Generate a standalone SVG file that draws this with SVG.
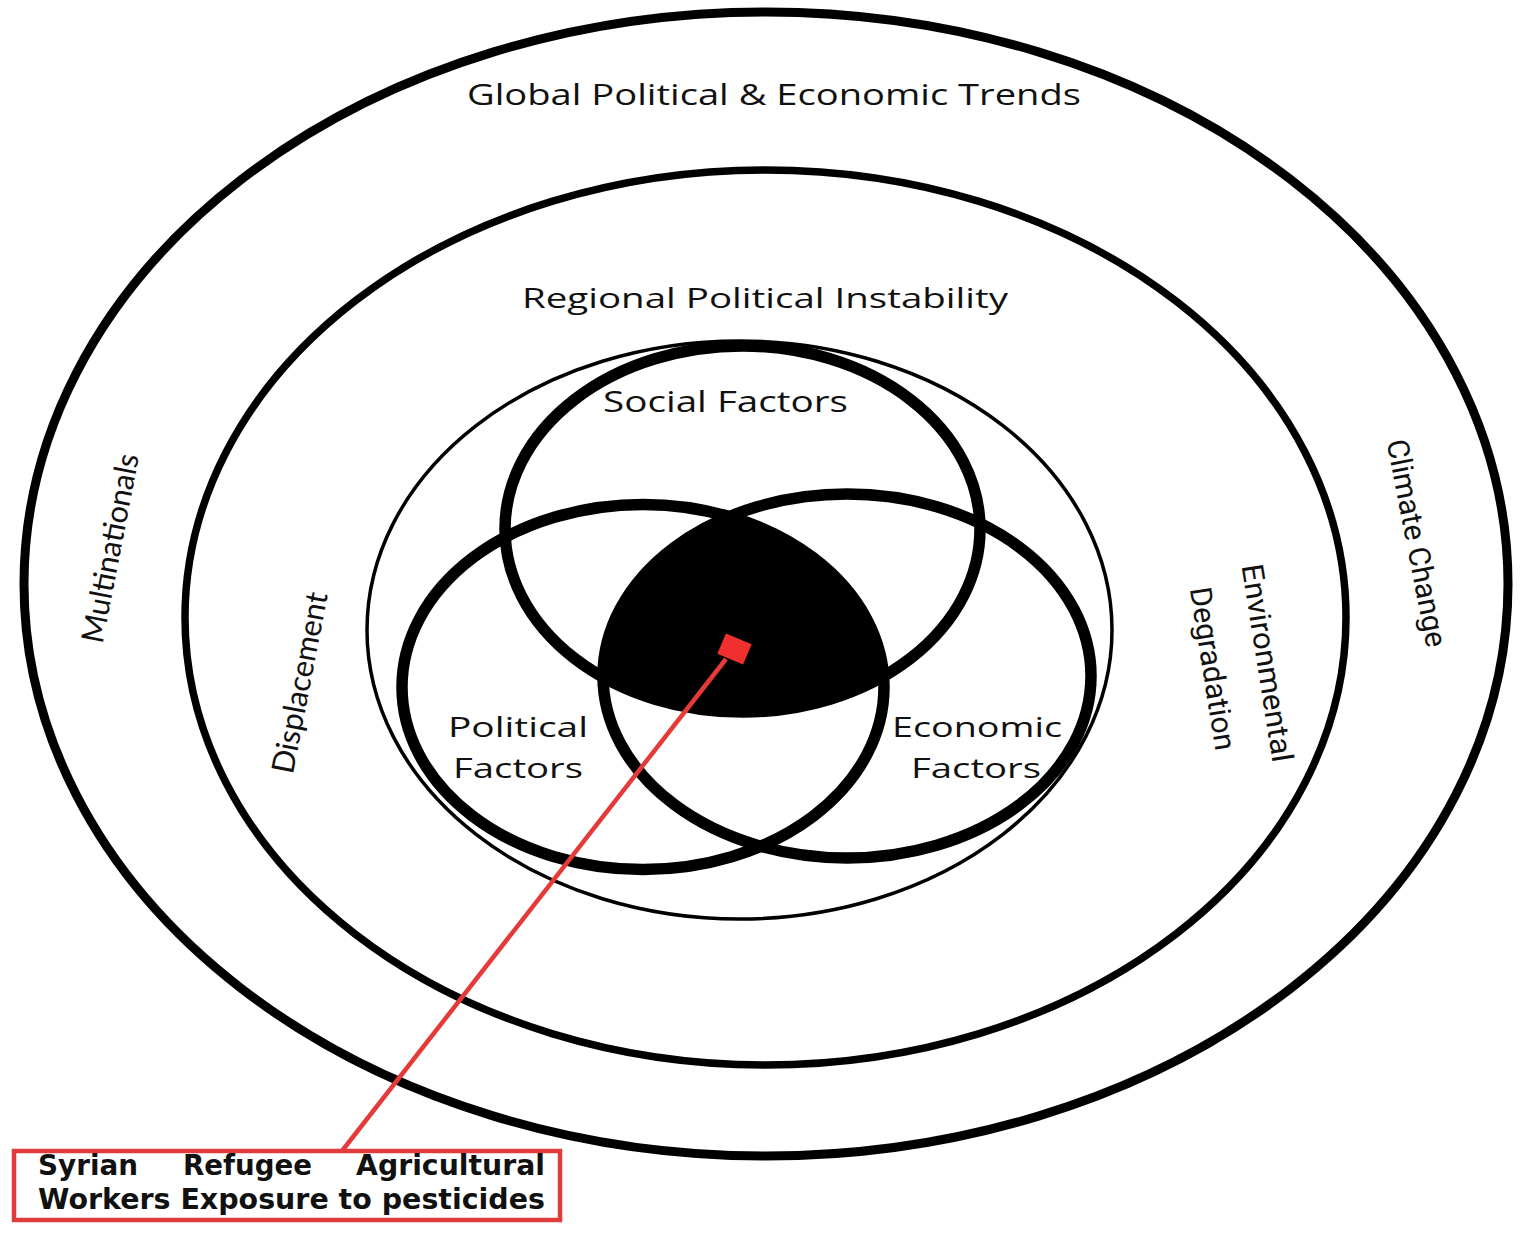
<svg xmlns="http://www.w3.org/2000/svg" width="1523" height="1242" viewBox="0 0 1523 1242">
<style>
.ring{fill:none;stroke:#000}
.lbl{font-family:"Open Sans","Liberation Sans",sans-serif;fill:#111;text-anchor:middle}
.rot{font-family:Roboto,"Liberation Sans",sans-serif;fill:#111;text-anchor:middle;dominant-baseline:central}
.hum{font-family:Lato,"Liberation Sans",sans-serif;font-style:normal;fill:#111;text-anchor:middle;dominant-baseline:central}
.box{font-family:"DejaVu Sans","Liberation Sans",sans-serif;font-weight:bold;fill:#111;font-size:28px}
</style>
<defs>
<clipPath id="clipPol"><ellipse cx="643" cy="687" rx="241" ry="182.5"/></clipPath>
<clipPath id="clipEco"><ellipse cx="847" cy="676" rx="244" ry="182"/></clipPath>
</defs>
<rect width="1523" height="1242" fill="#fff"/>

<g id="global-ring">
<ellipse class="ring" cx="766" cy="584" rx="742" ry="572" stroke-width="9"/>
<text class="lbl" x="774" y="105" font-size="30" textLength="614" lengthAdjust="spacingAndGlyphs">Global Political &amp; Economic Trends</text>
<text class="hum" font-size="31" textLength="192" lengthAdjust="spacingAndGlyphs" transform="translate(109 548) rotate(-79)">Multinationals</text>
<text class="rot" font-size="30" textLength="211" lengthAdjust="spacingAndGlyphs" transform="translate(1417 543) rotate(79)">Climate Change</text>
</g>

<g id="regional-ring">
<ellipse class="ring" cx="765.5" cy="617.5" rx="580.5" ry="447.5" stroke-width="7.5"/>
<text class="lbl" x="765" y="308" font-size="28" textLength="486" lengthAdjust="spacingAndGlyphs">Regional Political Instability</text>
<text class="hum" font-size="31" textLength="184" lengthAdjust="spacingAndGlyphs" transform="translate(298.5 682.5) rotate(-79)">Displacement</text>
<text class="rot" font-size="30" textLength="200" lengthAdjust="spacingAndGlyphs" transform="translate(1267.5 663) rotate(81)">Environmental</text>
<text class="rot" font-size="30" textLength="165" lengthAdjust="spacingAndGlyphs" transform="translate(1213 668.5) rotate(81)">Degradation</text>
</g>

<g id="local-ring">
<ellipse class="ring" cx="739.5" cy="630" rx="372.5" ry="289" stroke-width="3.5"/>
</g>

<g id="core-intersection">
<g clip-path="url(#clipPol)"><g clip-path="url(#clipEco)">
<ellipse cx="742.5" cy="529" rx="237.5" ry="183" fill="#000"/>
</g></g>
</g>

<g id="social-factors">
<ellipse class="ring" cx="742.5" cy="529" rx="237.5" ry="183" stroke-width="11.5"/>
<text class="lbl" x="725.5" y="412" font-size="29" textLength="245" lengthAdjust="spacingAndGlyphs">Social Factors</text>
</g>

<g id="political-factors">
<ellipse class="ring" cx="643" cy="687" rx="241" ry="182.5" stroke-width="11.5"/>
<text class="lbl" x="518" y="737" font-size="28" textLength="140" lengthAdjust="spacingAndGlyphs">Political</text>
<text class="lbl" x="518" y="777.5" font-size="28" textLength="130" lengthAdjust="spacingAndGlyphs">Factors</text>
</g>

<g id="economic-factors">
<ellipse class="ring" cx="847" cy="676" rx="244" ry="182" stroke-width="11.5"/>
<text class="lbl" x="977" y="737" font-size="28" textLength="170" lengthAdjust="spacingAndGlyphs">Economic</text>
<text class="lbl" x="976" y="777.5" font-size="28" textLength="130" lengthAdjust="spacingAndGlyphs">Factors</text>
</g>

<g id="connectors">
<line x1="726" y1="659" x2="342" y2="1151" stroke="#e53a3a" stroke-width="4.5"/>
<rect x="-14" y="-11" width="28" height="22" fill="#f0302f" transform="translate(734.5 649) rotate(23)"/>
</g>

<g id="outcome-box">
<rect x="14" y="1151" width="546" height="69" fill="#fff" stroke="#e03c3c" stroke-width="4.5"/>
<text class="box" y="1175"><tspan x="38" textLength="100" lengthAdjust="spacingAndGlyphs">Syrian</tspan><tspan x="183" textLength="129" lengthAdjust="spacingAndGlyphs">Refugee</tspan><tspan x="356" textLength="189" lengthAdjust="spacingAndGlyphs">Agricultural</tspan></text>
<text class="box" x="38" y="1209" textLength="507" lengthAdjust="spacingAndGlyphs">Workers Exposure to pesticides</text>
</g>
</svg>
